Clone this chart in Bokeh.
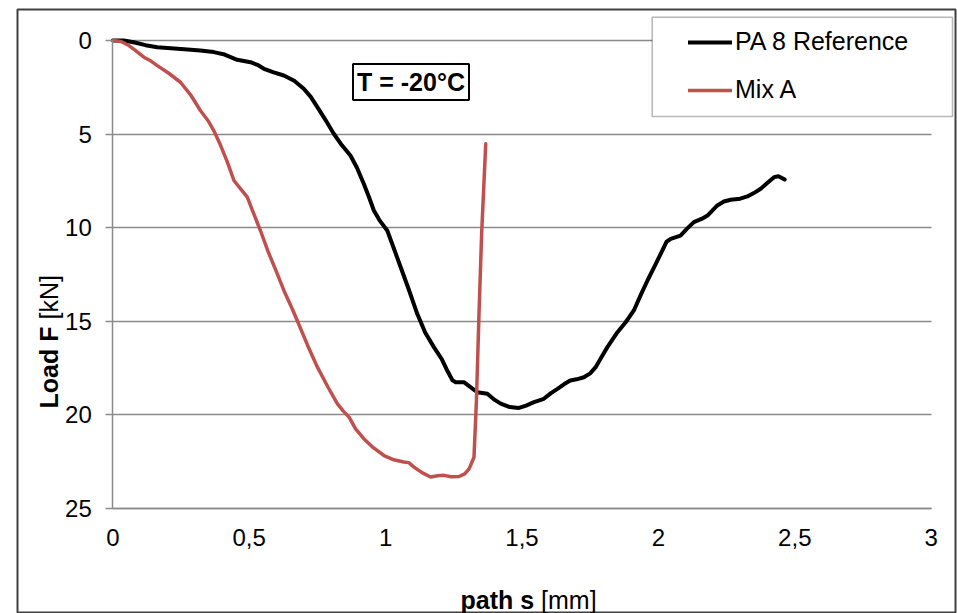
import math
from bokeh.plotting import figure
from bokeh.models import Range1d, FixedTicker, Label, Legend, LegendItem, BoxAnnotation
from bokeh.embed import file_html
from bokeh.resources import INLINE

# ---------------- data ----------------
path_ref = [0.000, 0.040, 0.076, 0.120, 0.163, 0.250, 0.321, 0.370, 0.410, 0.456,
            0.505, 0.530, 0.554, 0.590, 0.627, 0.665, 0.700, 0.725, 0.750, 0.780,
            0.810, 0.840, 0.871, 0.895, 0.920, 0.940, 0.957, 0.980, 1.006, 1.030,
            1.055, 1.085, 1.116, 1.145, 1.177, 1.205, 1.226, 1.245, 1.257, 1.287,
            1.310, 1.336, 1.373, 1.400, 1.422, 1.455, 1.489, 1.515, 1.544, 1.580,
            1.605, 1.630, 1.655, 1.677, 1.700, 1.727, 1.750, 1.770, 1.790, 1.813,
            1.850, 1.880, 1.910, 1.935, 1.960, 1.990, 2.015, 2.030, 2.045, 2.081,
            2.105, 2.130, 2.160, 2.180, 2.216, 2.240, 2.265, 2.300, 2.326, 2.350,
            2.375, 2.400, 2.424, 2.440, 2.463]
load_ref = [0.00, 0.00, 0.09, 0.25, 0.36, 0.45, 0.53, 0.62, 0.75, 1.03,
            1.16, 1.30, 1.51, 1.70, 1.87, 2.15, 2.58, 3.00, 3.56, 4.25,
            4.98, 5.60, 6.14, 6.80, 7.65, 8.40, 9.08, 9.65, 10.15, 11.10,
            12.10, 13.30, 14.60, 15.60, 16.38, 17.00, 17.63, 18.15, 18.25, 18.25,
            18.50, 18.79, 18.87, 19.20, 19.40, 19.58, 19.63, 19.50, 19.32, 19.14,
            18.85, 18.61, 18.35, 18.16, 18.10, 17.99, 17.78, 17.45, 16.95, 16.38,
            15.58, 15.05, 14.42, 13.60, 12.82, 11.95, 11.20, 10.75, 10.60, 10.42,
            10.05, 9.70, 9.52, 9.35, 8.81, 8.60, 8.51, 8.45, 8.33, 8.15,
            7.92, 7.60, 7.30, 7.25, 7.43]

path_mix = [0.000, 0.030, 0.059, 0.085, 0.114, 0.140, 0.163, 0.205, 0.248, 0.285,
            0.321, 0.350, 0.370, 0.395, 0.420, 0.444, 0.470, 0.493, 0.515, 0.541,
            0.570, 0.603, 0.630, 0.658, 0.676, 0.713, 0.750, 0.790, 0.823, 0.845,
            0.866, 0.890, 0.920, 0.955, 0.994, 1.030, 1.067, 1.085, 1.104, 1.135,
            1.165, 1.190, 1.214, 1.240, 1.269, 1.290, 1.306, 1.324, 1.333, 1.342,
            1.352, 1.367]
load_mix = [0.00, 0.05, 0.27, 0.55, 0.89, 1.10, 1.34, 1.75, 2.23, 2.90,
            3.74, 4.30, 4.81, 5.60, 6.50, 7.48, 7.95, 8.37, 9.20, 10.15,
            11.30, 12.47, 13.45, 14.34, 14.96, 16.25, 17.45, 18.55, 19.40, 19.80,
            20.12, 20.75, 21.27, 21.75, 22.17, 22.40, 22.52, 22.55, 22.79, 23.10,
            23.32, 23.25, 23.23, 23.30, 23.29, 23.15, 22.88, 22.26, 19.22, 14.78,
            10.33, 5.52]

series_names = ["PA 8 Reference", "Mix A"]
series_colors = ["#000000", "#C0504D"]

x_ticks = [0, 0.5, 1, 1.5, 2, 2.5, 3]
x_tick_labels = ["0", "0,5", "1", "1,5", "2", "2,5", "3"]
y_ticks = [0, 5, 10, 15, 20, 25]
x_limits = (0, 3)
y_limits = (0, 25)

x_title_bold = "path s"
x_title_unit = "[mm]"
y_title_bold = "Load F"
y_title_unit = "[kN]"
annotation_text = "T = -20°C"

# ---------------- layout (pixels on the page) ----------------
GRID = "#8a8a8a"
FONT = "Liberation Sans"
W, H = 957, 613
CH_L, CH_T, CH_R, CH_B = 17, 9, 955, 613  # chart-area box (outer border)
AX_L, AX_R, AX_T, AX_B = 112.3, 930.7, 40.0, 508.0  # plot area

sx = (AX_R - AX_L) / (x_limits[1] - x_limits[0])
sy = (AX_B - AX_T) / (y_limits[1] - y_limits[0])

def dx(px):   # page px -> data x
    return x_limits[0] + (px - AX_L) / sx

def dy(py):   # page py -> data y (y increases downward)
    return y_limits[0] + (py - AX_T) / sy

p = figure(width=W, height=H,
           x_range=Range1d(dx(CH_L), dx(CH_R)),
           y_range=Range1d(dy(CH_B), dy(CH_T)),
           output_backend="svg", toolbar_location=None,
           min_border_left=CH_L, min_border_right=W - CH_R,
           min_border_top=CH_T, min_border_bottom=H - CH_B)
p.outline_line_color = "#404040"
p.outline_line_width = 2
p.background_fill_color = "white"
p.border_fill_color = "white"

# axes placed inside the chart area
p.xaxis.fixed_location = y_limits[1]
p.yaxis.fixed_location = x_limits[0]
p.xaxis.bounds = x_limits
p.yaxis.bounds = y_limits
p.xaxis.ticker = FixedTicker(ticks=x_ticks)
p.xaxis.major_label_overrides = {t: l for t, l in zip(x_ticks, x_tick_labels)}
p.yaxis.ticker = FixedTicker(ticks=y_ticks)
for ax in (p.xaxis, p.yaxis):
    ax.axis_line_color = GRID
    ax.axis_line_width = 1.5
    ax.minor_tick_line_color = None
    ax.major_label_text_font = FONT
    ax.major_label_text_font_size = "24px"
    ax.major_label_text_color = "#000000"
p.xaxis.major_tick_line_color = None
p.xaxis.major_tick_out = 0
p.xaxis.major_tick_in = 0
p.xaxis.major_label_standoff = 20
p.yaxis.major_tick_line_color = GRID
p.yaxis.major_tick_line_width = 1.5
p.yaxis.major_tick_out = 7
p.yaxis.major_tick_in = 0
p.yaxis.major_label_standoff = 14

p.xgrid.grid_line_color = None
p.ygrid.grid_line_color = GRID
p.ygrid.grid_line_width = 1.5
p.ygrid.cross_bounds = x_limits

# series
r_ref = p.line(path_ref, load_ref, line_color=series_colors[0], line_width=4,
               line_join="round", line_cap="round")
r_mix = p.line(path_mix, load_mix, line_color=series_colors[1], line_width=3.5,
               line_join="round", line_cap="round")

# legend frame box, then the legend entries inside it (no border -> no padding)
BOX_L, BOX_R, BOX_T, BOX_B = 651.7, 952, 16.7, 116
p.add_layout(BoxAnnotation(left=dx(BOX_L), right=dx(BOX_R), top=dy(BOX_T), bottom=dy(BOX_B),
                           fill_color="white", fill_alpha=1.0,
                           line_color="#111111", line_width=1.5))

LEG_L, LEG_B = 688, 104
legend = Legend(items=[LegendItem(label=series_names[0], renderers=[r_ref]),
                       LegendItem(label=series_names[1], renderers=[r_mix])],
                location=(LEG_L - CH_L, CH_B - LEG_B), margin=0, padding=0, spacing=19,
                glyph_width=44, glyph_height=24, label_height=24, label_width=150,
                label_standoff=3,
                label_text_font=FONT, label_text_font_size="25px",
                label_text_color="#000000",
                border_line_color=None, background_fill_alpha=0.0)
p.add_layout(legend)

# annotation box
p.add_layout(Label(x=dx(410.5), y=dy(81.5), text=annotation_text,
                   text_font=FONT, text_font_style="bold", text_font_size="25px",
                   text_align="center", text_baseline="middle", text_color="#000000",
                   border_line_color="#000000", border_line_width=2,
                   background_fill_color="white", padding=4))

# axis titles (mixed bold / normal)
TITLE = dict(text_font=FONT, text_font_size="25px", text_color="#000000",
             text_baseline="alphabetic")
p.add_layout(Label(x=dx(533.6), y=dy(599), text=x_title_bold,
                   text_font_style="bold", text_align="right", **TITLE))
p.add_layout(Label(x=dx(540.6), y=dy(599), text=x_title_unit,
                   text_font_style="normal", text_align="left", **TITLE))
p.add_layout(Label(x=dx(48), y=dy(326), text=y_title_bold, angle=math.pi / 2,
                   text_font_style="bold", text_align="right", **TITLE))
p.add_layout(Label(x=dx(48), y=dy(319), text=y_title_unit, angle=math.pi / 2,
                   text_font_style="normal", text_align="left", **TITLE))

open("out.html", "w").write(file_html(p, INLINE))
